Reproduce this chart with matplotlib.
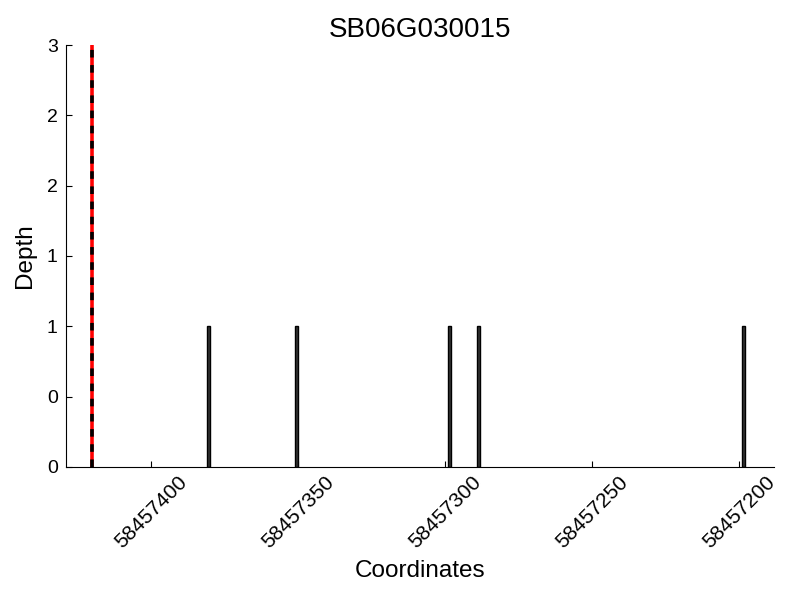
import matplotlib
matplotlib.use("Agg")
import matplotlib.pyplot as plt
from matplotlib.ticker import FormatStrFormatter, MultipleLocator

plt.rcParams['font.family'] = ['Liberation Sans', 'DejaVu Sans']

title = "SB06G030015"
positions = [58457380, 58457350, 58457298, 58457288, 58457198]
depths = [1, 1, 1, 1, 1]
marker_pos = 58457420
x_limits = (58457429, 58457188)
y_limits = (0, 3)
x_ticks = [58457400, 58457350, 58457300, 58457250, 58457200]

fig = plt.figure(figsize=(8, 6), dpi=100)
ax = fig.add_axes([0.0825, 0.2217, 0.885, 0.7033])

ax.bar(positions, depths, width=1, align='edge', color='#333333',
       edgecolor='black', linewidth=1)
ax.axvline(marker_pos, color='red', lw=2.6)
ax.axvline(marker_pos, color='black', lw=2.6, linestyle=(0, (2.1, 2.1)))

ax.set_xlim(*x_limits)
ax.set_ylim(*y_limits)
ax.set_xticks(x_ticks)
ax.set_xticklabels([str(t) for t in x_ticks], rotation=45, ha='center')
ax.yaxis.set_major_locator(MultipleLocator(0.5))
ax.yaxis.set_major_formatter(FormatStrFormatter('%d'))
ax.tick_params(direction='in', length=4)
ax.tick_params(axis='x', labelsize=15, pad=4)
ax.tick_params(axis='y', labelsize=14, pad=6)
ax.spines['top'].set_visible(False)
ax.spines['right'].set_visible(False)

ax.set_title(title, fontsize=20)
ax.set_xlabel("Coordinates", fontsize=17.5, labelpad=6)
ax.set_ylabel("Depth", fontsize=17.5, labelpad=8)

fig.savefig("out.png", dpi=100)
